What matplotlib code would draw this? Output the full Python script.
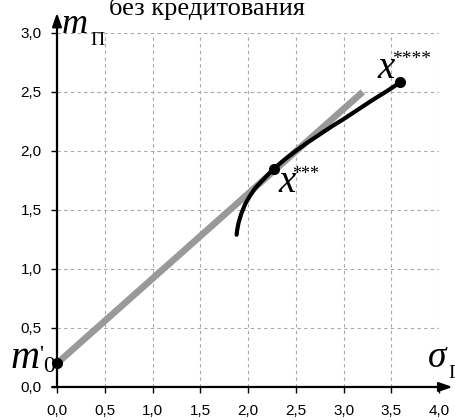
import matplotlib.pyplot as plt
from matplotlib.ticker import FuncFormatter

plt.rcParams['font.family'] = 'Liberation Sans'

# Capital market line (lending only) from m'0 to its end
cml_sigma = [0.0, 3.2]
cml_m = [0.2, 2.5]

# Efficient frontier of risky portfolios
front_sigma = [1.88, 1.885, 1.90, 1.93, 1.97, 2.02, 2.08, 2.15, 2.27, 2.38,
               2.50, 2.62, 2.75, 2.88, 3.00, 3.15, 3.30, 3.45, 3.59]
front_m = [1.29, 1.325, 1.39, 1.47, 1.55, 1.62, 1.69, 1.75, 1.85, 1.925,
           2.00, 2.07, 2.14, 2.21, 2.27, 2.35, 2.43, 2.505, 2.58]

# Marked points: m'0, tangency portfolio x***, end portfolio x****
pt_sigma = [0.0, 2.27, 3.59]
pt_m = [0.2, 1.85, 2.58]

xticks = [0.0, 0.5, 1.0, 1.5, 2.0, 2.5, 3.0, 3.5, 4.0]
yticks = [0.0, 0.5, 1.0, 1.5, 2.0, 2.5, 3.0]

fig = plt.figure(figsize=(4.56, 4.2), dpi=100)
ax = fig.add_axes([0.125, 0.0786, 0.838, 0.843])

ax.plot(cml_sigma, cml_m, color='#999999', lw=4.8, solid_capstyle='butt', zorder=2)
ax.plot(front_sigma, front_m, color='black', lw=3.0, solid_capstyle='round', zorder=3)
ax.plot(pt_sigma, pt_m, 'o', color='black', ms=7, zorder=4, clip_on=False)

ax.set_xlim(0, 4)
ax.set_ylim(0, 3)
ax.set_xticks(xticks)
ax.set_yticks(yticks)
comma = FuncFormatter(lambda v, p: f'{v:.1f}'.replace('.', ','))
ax.xaxis.set_major_formatter(comma)
ax.yaxis.set_major_formatter(comma)
ax.tick_params(labelsize=11, length=4, width=1, color='black')
ax.tick_params(axis='x', pad=8)
ax.tick_params(axis='y', pad=7)

ax.grid(True, color='#a8a8a8', linestyle=(0, (3, 3)), lw=0.8)
ax.set_axisbelow(True)
for s in ax.spines.values():
    s.set_visible(False)

# axes with arrow heads
arrow = dict(arrowstyle='-|>,head_width=0.28,head_length=0.8', color='black', lw=1.6,
             shrinkA=0, shrinkB=0)
ax.annotate('', xy=(0, 3.17), xytext=(0, 0), arrowprops=arrow, annotation_clip=False)
ax.annotate('', xy=(4.14, 0), xytext=(-0.05, 0), arrowprops=arrow, annotation_clip=False)

# axis names and point labels (Times-like serif)
serif = 'Liberation Serif'


def label(x, y, s, size, italic=False, va='baseline'):
    ax.text(x, y, s, fontsize=size, family=serif, va=va,
            style='italic' if italic else 'normal', clip_on=False, zorder=5)


label(0.052, 3.0, 'm', 26, italic=True)
label(0.346, 2.898, 'П', 14)
label(3.885, 0.169, 'σ', 27, italic=True)
label(4.094, 0.076, 'П', 14)
label(-0.49, 0.161, 'm', 29, italic=True)
label(-0.19, 0.35, "'", 16, va='top')
label(-0.147, 0.127, '0', 17)
label(2.314, 1.653, 'x', 28, italic=True)
label(2.461, 1.873, '***', 13, va='top')
label(3.351, 2.619, 'x', 28, italic=True)
label(3.508, 2.847, '****', 14, va='top')

fig.text(207 / 456, 1 - 15 / 420, 'без кредитования', fontsize=19,
         family=serif, ha='center', va='baseline')

fig.savefig('out.png', dpi=100)
